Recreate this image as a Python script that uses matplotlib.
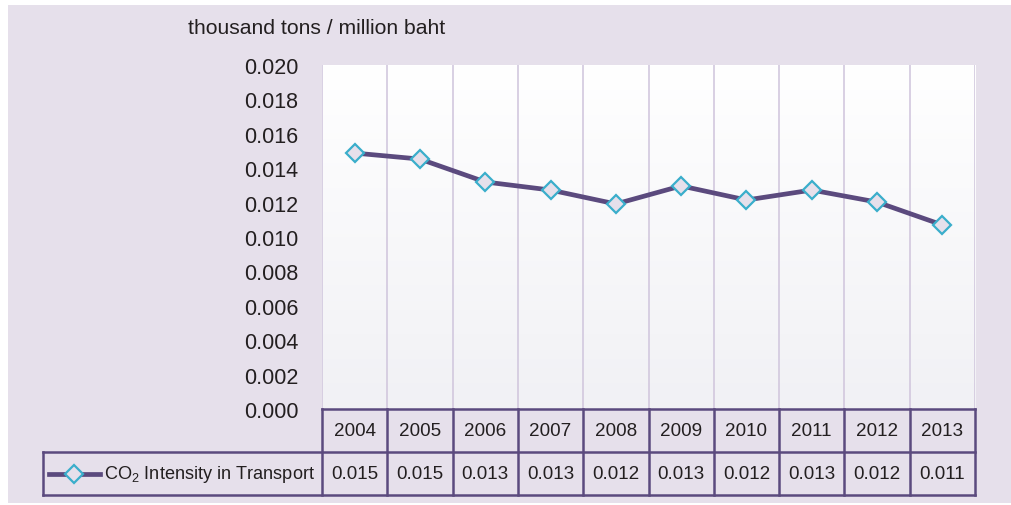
import numpy as np
import matplotlib.pyplot as plt
from matplotlib import rcParams
from matplotlib.lines import Line2D
from matplotlib.transforms import blended_transform_factory

# данные
years = ['2004', '2005', '2006', '2007', '2008', '2009', '2010', '2011', '2012', '2013']
intensity = [0.01488, 0.01453, 0.01320, 0.01273, 0.01192, 0.01297, 0.01215, 0.01273, 0.01203, 0.01070]
table_values = ['0.015', '0.015', '0.013', '0.013', '0.012', '0.013', '0.012', '0.013', '0.012', '0.011']
y_ticks = [0.000, 0.002, 0.004, 0.006, 0.008, 0.010, 0.012, 0.014, 0.016, 0.018, 0.020]
series_name = r'CO$_2$ Intensity in Transport'
unit_label = 'thousand tons / million baht'

# стиль
rcParams['font.family'] = ['Liberation Sans', 'DejaVu Sans']
rcParams['mathtext.fontset'] = 'custom'
rcParams['mathtext.rm'] = 'Liberation Sans'
rcParams['mathtext.it'] = 'Liberation Sans'

BG = '#e6e0eb'
LINE = '#5b4a7e'
MARK_EDGE = '#3aaecb'
GRID = '#d2c8de'
TEXT = '#231f20'

W, H = 1011, 506
fig = plt.figure(figsize=(W / 100, H / 100), dpi=100, facecolor='white')
# фон
fig.patches.append(plt.Rectangle((8 / W, 1 - 504 / H), (W - 8) / W, (504 - 6) / H,
                                 transform=fig.transFigure, facecolor=BG, edgecolor='none', zorder=-10))

x0, x1 = 322, 975
y0, y1 = 66, 410
ax = fig.add_axes([x0 / W, 1 - y1 / H, (x1 - x0) / W, (y1 - y0) / H])
ax.set_facecolor('none')

x = np.arange(len(years))
n = len(years)

# градиент фона области графика (сверху белый, снизу серый)
grad = np.linspace(0, 1, 256).reshape(-1, 1)
top = np.array([1.0, 1.0, 1.0])
bot = np.array([0.945, 0.945, 0.96])
img = top + (bot - top) * grad[:, :, None] * np.ones((1, 2, 1))
ax.imshow(img, extent=[-0.5, n - 0.5, 0, 0.020], aspect='auto', zorder=0, origin='upper')
ax.set_xlim(-0.5, n - 0.5)
ax.set_ylim(0, 0.020)

for b in np.arange(-0.5, n, 1.0):
    ax.axvline(b, color=GRID, lw=1.2, zorder=1)

ax.plot(x, intensity, color=LINE, lw=3.4, zorder=3,
        marker='D', markersize=9, markerfacecolor=BG, markeredgecolor=MARK_EDGE, markeredgewidth=1.6)

for s in ax.spines.values():
    s.set_visible(False)
ax.set_xticks([])
ax.set_yticks(y_ticks)
ax.set_yticklabels([f'{v:.3f}' for v in y_ticks], fontsize=15.5, color=TEXT)
ax.tick_params(axis='y', length=0, pad=17)

fig.text(188 / W, 1 - 28 / H, unit_label, fontsize=15.2, color=TEXT, ha='left', va='center')

# таблица под графиком
tr = blended_transform_factory(ax.transData, ax.transAxes)
row_h = 43 / (y1 - y0)
px = (x1 - x0) / n
left_cell = -0.5 - (x0 - 43) / px
tc = LINE
lw = 1.8
FS_TAB = 13.6
# горизонтальные линии
ax.plot([-0.5, n - 0.5], [0, 0], transform=tr, color=tc, lw=lw, clip_on=False, zorder=5)
ax.plot([left_cell, n - 0.5], [-row_h, -row_h], transform=tr, color=tc, lw=lw, clip_on=False, zorder=5)
ax.plot([left_cell, n - 0.5], [-2 * row_h, -2 * row_h], transform=tr, color=tc, lw=lw, clip_on=False, zorder=5)
# вертикальные линии
for b in np.arange(-0.5, n, 1.0):
    ax.plot([b, b], [0, -2 * row_h], transform=tr, color=tc, lw=lw, clip_on=False, zorder=5)
ax.plot([left_cell, left_cell], [-row_h, -2 * row_h], transform=tr, color=tc, lw=lw, clip_on=False, zorder=5)

for i in range(n):
    ax.text(x[i], -0.5 * row_h, years[i], transform=tr, ha='center', va='center',
            fontsize=FS_TAB, color=TEXT)
    ax.text(x[i], -1.5 * row_h, table_values[i], transform=tr, ha='center', va='center',
            fontsize=FS_TAB, color=TEXT)

# легенда в таблице
lx0 = left_cell + 6 / px
lx1 = left_cell + 57 / px
ly = -1.5 * row_h
ax.add_line(Line2D([lx0, lx1], [ly, ly], transform=tr, color=LINE, lw=3.4, clip_on=False, zorder=6))
ax.add_line(Line2D([(lx0 + lx1) / 2], [ly], transform=tr, marker='D', markersize=9,
                   markerfacecolor=BG, markeredgecolor=MARK_EDGE, markeredgewidth=1.6,
                   clip_on=False, zorder=7))
ax.text(left_cell + 61 / px, ly, series_name, transform=tr, ha='left', va='center',
        fontsize=13.1, color=TEXT)

fig.savefig('out.png', dpi=100, facecolor='white')
